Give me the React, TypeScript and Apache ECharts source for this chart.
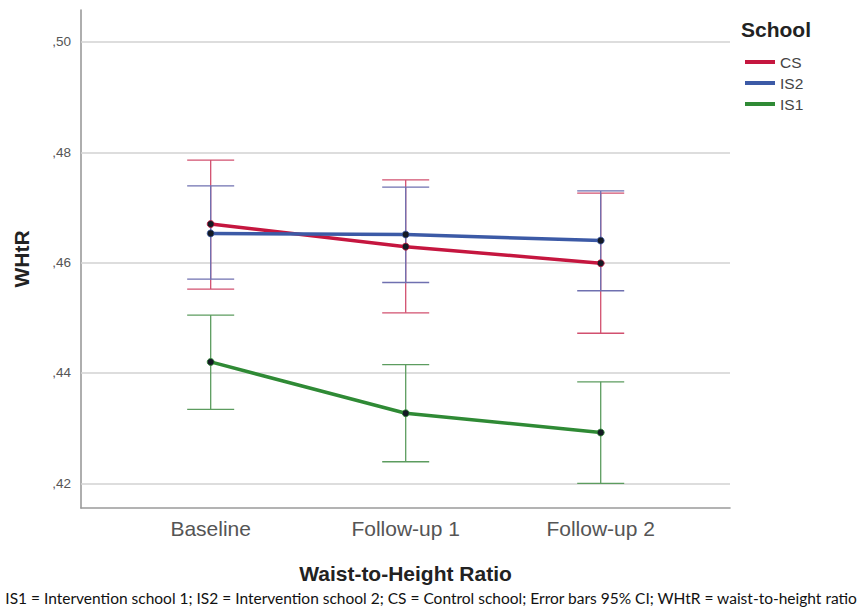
import React, { useEffect, useRef } from "react";
import * as echarts from "echarts";

// Measurement occasions
const categories = ["Baseline", "Follow-up 1", "Follow-up 2"];

// Schools, in legend order
const schools = ["CS", "IS2", "IS1"];
const lineColors = ["#c5163f", "#3c5aa6", "#2f8a35"];
const barColors = ["#d2506f", "#6f70b0", "#5c9c5f"];

// Mean WHtR per occasion
const csMean = [0.467, 0.4629, 0.4599];
const is2Mean = [0.4653, 0.4651, 0.464];
const is1Mean = [0.442, 0.4327, 0.4292];

// 95% CI bounds
const csLow = [0.4552, 0.4509, 0.4472];
const csHigh = [0.4786, 0.475, 0.4726];
const is2Low = [0.457, 0.4564, 0.4549];
const is2High = [0.4739, 0.4737, 0.473];
const is1Low = [0.4334, 0.4239, 0.42];
const is1High = [0.4505, 0.4415, 0.4384];

// Y tick labels
const yTicks = [0.42, 0.44, 0.46, 0.48, 0.5];

const means = [csMean, is2Mean, is1Mean];
const lows = [csLow, is2Low, is1Low];
const highs = [csHigh, is2High, is1High];

const FONT = "'Liberation Sans', Arial, sans-serif";

export default function App() {
  const ref = useRef<HTMLDivElement>(null);

  useEffect(() => {
    if (!ref.current) return;
    const chart = echarts.init(ref.current, null, { renderer: "svg" });

    const errorSeries = schools.map((name, s) => ({
      type: "custom",
      name: name + " CI",
      z: 2,
      silent: true,
      data: categories.map((_, i) => [i, lows[s][i], highs[s][i]]),
      renderItem: (params: any, api: any) => {
        const x = api.value(0);
        const lo = api.coord([x, api.value(1)]);
        const hi = api.coord([x, api.value(2)]);
        const hw = 23.5;
        const style = { stroke: barColors[s], lineWidth: 1.3, fill: null };
        return {
          type: "group",
          children: [
            { type: "line", shape: { x1: lo[0], y1: lo[1], x2: hi[0], y2: hi[1] }, style },
            { type: "line", shape: { x1: hi[0] - hw, y1: hi[1], x2: hi[0] + hw, y2: hi[1] }, style },
            { type: "line", shape: { x1: lo[0] - hw, y1: lo[1], x2: lo[0] + hw, y2: lo[1] }, style },
          ],
        };
      },
    }));

    const lineSeries = schools.map((name, s) => ({
      type: "line",
      name,
      z: 3,
      data: categories.map((_, i) => [i, means[s][i]]),
      symbol: "circle",
      symbolSize: 7,
      lineStyle: { color: lineColors[s], width: 3.5 },
      itemStyle: { color: "#141a24", borderColor: lineColors[s], borderWidth: 0.8 },
      ...(s === 0
        ? {
            markLine: {
              silent: true,
              symbol: "none",
              label: { show: false },
              lineStyle: { color: "#d2d2d2", width: 1.6, type: "solid" },
              data: yTicks.map((v) => ({ yAxis: v })),
              z: 1,
            },
          }
        : {}),
    }));

    chart.setOption({
      animation: false,
      backgroundColor: "#ffffff",
      textStyle: { fontFamily: FONT },
      grid: { left: 81, right: 133, top: 10, bottom: 99, containLabel: false },
      legend: {
        orient: "vertical",
        left: 740,
        top: 49,
        itemWidth: 30,
        itemHeight: 4,
        itemGap: 5,
        icon: "rect",
        textStyle: { fontSize: 15.5, color: "#444", fontFamily: FONT },
        data: schools.map((name, s) => ({ name, icon: "rect", itemStyle: { color: lineColors[s], borderWidth: 0 } })),
      },
      xAxis: {
        type: "value",
        min: -0.665,
        max: 2.663,
        splitLine: { show: false },
        axisTick: { show: false },
        axisLine: { show: true, onZero: false, lineStyle: { color: "#9a9a9a", width: 1.6 } },
        axisLabel: {
          customValues: [0, 1, 2],
          formatter: (v: number) => categories[Math.round(v)] ?? "",
          fontSize: 21,
          color: "#555",
          margin: 10,
          fontFamily: FONT,
        },
        name: "Waist-to-Height Ratio",
        nameLocation: "middle",
        nameGap: 55,
        nameTextStyle: { fontSize: 21, fontWeight: "bold", color: "#222", fontFamily: FONT },
      },
      yAxis: {
        type: "value",
        min: 0.41552,
        max: 0.5058,
        splitLine: { show: false },
        axisTick: { show: false },
        axisLine: { show: true, onZero: false, lineStyle: { color: "#9a9a9a", width: 1.6 } },
        axisLabel: {
          customValues: yTicks,
          formatter: (v: number) => "," + v.toFixed(2).split(".")[1],
          fontSize: 13.5,
          color: "#555",
          margin: 10,
          fontFamily: FONT,
        },
        name: "WHtR",
        nameLocation: "middle",
        nameRotate: 90,
        nameGap: 49,
        nameTextStyle: { fontSize: 21, fontWeight: "bold", color: "#222", fontFamily: FONT },
      },
      graphic: [
        {
          type: "text",
          left: 741,
          top: 19,
          style: { text: "School", font: `bold 21px ${FONT}`, fill: "#222" },
        },
        {
          type: "text",
          left: "center",
          top: 590,
          style: {
            text: "IS1 = Intervention school 1; IS2 = Intervention school 2; CS = Control school; Error bars 95% CI; WHtR = waist-to-height ratio",
            font: `15.5px Lato, 'Open Sans', sans-serif`,
            fill: "#111",
          },
        },
      ],
      series: [...errorSeries, ...lineSeries],
    });

    return () => chart.dispose();
  }, []);

  return (
    <div
      ref={ref}
      style={{ position: "fixed", left: 0, top: 0, width: 863, height: 607, background: "#fff" }}
    />
  );
}
